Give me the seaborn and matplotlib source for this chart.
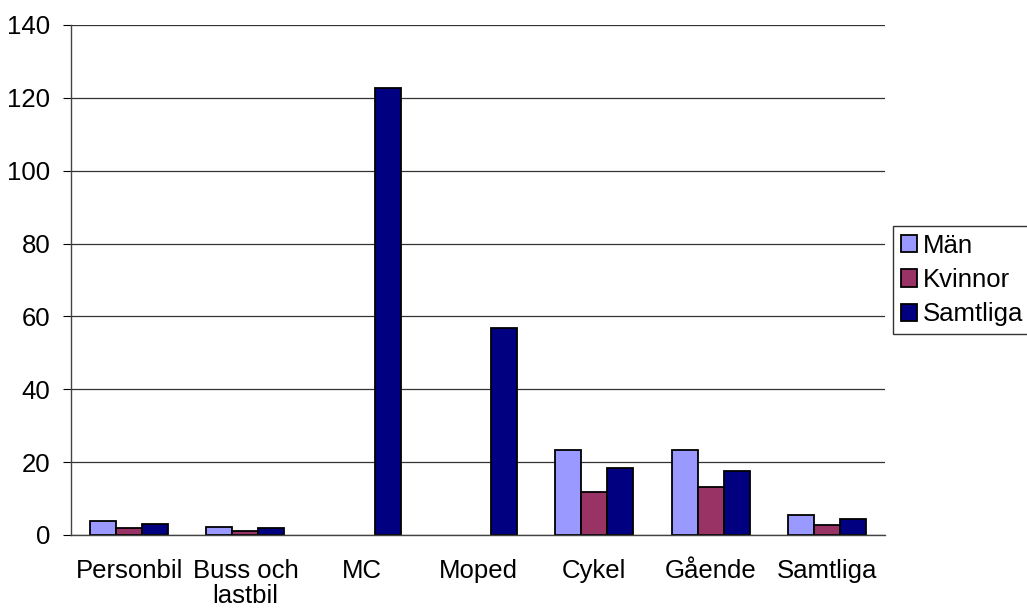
import numpy as np
import pandas as pd
import matplotlib
matplotlib.use("Agg")
import matplotlib.pyplot as plt
import seaborn as sns
from matplotlib.ticker import FixedLocator

# Data
categories = ["Personbil", "Buss och\nlastbil", "MC", "Moped", "Cykel", "Gående", "Samtliga"]
man = [3.8, 2.3, np.nan, np.nan, 23.3, 23.4, 5.5]
kvinnor = [2.0, 1.0, np.nan, np.nan, 11.9, 13.1, 2.7]
samtliga = [3.0, 1.8, 122.7, 56.8, 18.5, 17.7, 4.3]

series = ["Män", "Kvinnor", "Samtliga"]
colors = ["#9999FF", "#993366", "#000080"]

df = pd.DataFrame({"kategori": categories, "Män": man, "Kvinnor": kvinnor, "Samtliga": samtliga})
long_df = df.melt(id_vars="kategori", var_name="grupp", value_name="varde")

sns.set_style("white")
plt.rcParams['font.family'] = ['Liberation Sans', 'DejaVu Sans']

fig = plt.figure(figsize=(10.27, 6.14), dpi=100)
ax = fig.add_axes([71 / 1027, 1 - 535 / 614, 814 / 1027, 510 / 614])

sns.barplot(data=long_df, x="kategori", y="varde", hue="grupp", hue_order=series,
            palette=colors, width=0.67, edgecolor="black", linewidth=1.3,
            saturation=1, ax=ax, legend=True)

ax.set_ylim(0, 140)
ax.set_xlim(-0.5, len(categories) - 0.5)
ax.set_yticks(range(0, 141, 20))
ax.yaxis.grid(True, color="#333333", linewidth=0.9)
ax.set_axisbelow(True)
ax.set_xlabel("")
ax.set_ylabel("")

for side in ["top", "right"]:
    ax.spines[side].set_visible(False)
for side in ["left", "bottom"]:
    ax.spines[side].set_color("#444444")
    ax.spines[side].set_linewidth(1)

ax.tick_params(axis="x", which="major", length=0, labelsize=18.5, pad=17)
ax.xaxis.set_minor_locator(FixedLocator(np.arange(-0.5, len(categories), 1)))
ax.tick_params(axis="x", which="minor", length=6, direction="out", color="#444444")
ax.tick_params(axis="y", length=6, direction="out", labelsize=18.5, color="black",
               left=True, pad=9)
for lbl in ax.get_xticklabels():
    lbl.set_color("black")
    lbl.set_linespacing(1.05)
for lbl in ax.get_yticklabels():
    lbl.set_color("black")

ax.get_legend().remove()
handles, labels = ax.get_legend_handles_labels()
leg = fig.legend(handles, labels, loc="upper left", bbox_to_anchor=(893 / 1027, 1 - 226 / 614),
                 frameon=True, fancybox=False, edgecolor="black", fontsize=18.5,
                 handlelength=0.65, handleheight=0.65, handletextpad=0.2,
                 labelspacing=0.4, borderpad=0.3, borderaxespad=0)
leg.get_frame().set_linewidth(1)
for t in leg.get_texts():
    t.set_color("black")

fig.savefig("out.png", dpi=100)
